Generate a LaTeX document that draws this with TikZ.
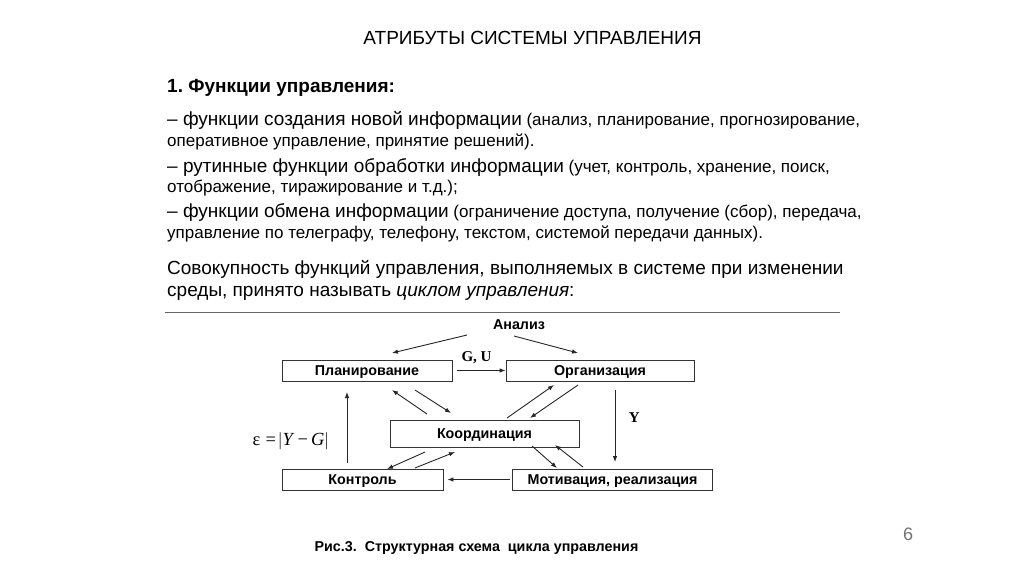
\documentclass[tikz,border=0pt]{standalone}
\usepackage{fontspec}
\setmainfont{Liberation Sans}
\newfontfamily\seriffont{Liberation Serif}
\usetikzlibrary{arrows.meta}
\frenchspacing

\begin{document}
\begin{tikzpicture}[x=1pt,y=-1pt,
 blk/.style={draw=black!80,line width=.8pt,minimum width=#1,minimum height=21pt,inner sep=0pt,text height=10.3pt,text depth=0pt,font=\bfseries\fontsize{14.3}{16}\selectfont},
 a/.style={-{Latex[length=6pt,width=4.5pt]},line width=.9pt,draw=black!85},
 txt/.style={anchor=base west,inner sep=0pt,font=\fontsize{17}{20}\selectfont},
 big/.style={anchor=base west,inner sep=0pt,font=\fontsize{19}{22}\selectfont}]
\useasboundingbox (0,0) rectangle (1024,574);
\fill[white] (0,0) rectangle (1024,574);
% title and text
\node[anchor=base,inner sep=0pt,font=\fontsize{19}{22}\selectfont] (title) at (532.5,44) {АТРИБУТЫ СИСТЕМЫ УПРАВЛЕНИЯ};
\node[anchor=base west,inner sep=0pt,font=\bfseries\fontsize{19}{22}\selectfont] (head) at (167,92) {1. Функции управления:};
\node[txt] (l1) at (167,125) {{\fontsize{19}{22}\selectfont – функции создания новой информации} (анализ, планирование, прогнозирование,};
\node[txt] (l2) at (167,146) {оперативное управление, принятие решений).};
\node[txt] (l3) at (167,172) {{\fontsize{19}{22}\selectfont – рутинные функции обработки информации} (учет, контроль, хранение, поиск,};
\node[txt] (l4) at (167,192) {отображение, тиражирование и т.д.);};
\node[txt] (l5) at (167,217) {{\fontsize{19}{22}\selectfont – функции обмена информации} (ограничение доступа, получение (сбор), передача,};
\node[txt] (l6) at (167,238) {управление по телеграфу, телефону, текстом, системой передачи данных).};
\node[big] (l7) at (167,274) {Совокупность функций управления, выполняемых в системе при изменении};
\node[big] (l8) at (167,296) {среды, принято называть \textit{циклом управления}:};
\draw[black!60,line width=1pt] (165,312) -- (840,312);
% scheme
\node[font=\bfseries\fontsize{14.3}{16}\selectfont] (an) at (519,325) {Анализ};
\node[blk=170pt] (plan) at (367,370.5) {Планирование};
\node[blk=188pt] (org) at (600,370.5) {Организация};
\node[blk=189pt,minimum height=27pt] (koord) at (484.5,433.5) {Координация};
\node[blk=161pt] (kontr) at (362.5,479.5) {Контроль};
\node[blk=200pt] (motiv) at (612.5,479.5) {Мотивация, реализация};
\node[font=\seriffont\fontsize{18.5}{21}\selectfont] (eps) at (291,441) {ε\hspace{5pt}=\hspace{2pt}$\Bigl|$\textit{Y}\hspace{3pt}−\hspace{3pt}\textit{G}$\Bigr|$};
\draw[a] ([shift={(-52,10)}]an.center) -- ([shift={(25,-17.5)}]plan.center);
\draw[a] ([shift={(-5,11)}]an.center) -- ([shift={(-22,-17.5)}]org.center);
\draw[a] ([xshift=5pt]plan.east) -- (org.west)
  node[midway,above=3pt,xshift=-5pt,font=\seriffont\bfseries\fontsize{15}{17}\selectfont] (gu) {G, U};
\draw[a] ([shift={(15,19.5)}]org.center) -- ([shift={(2.5,-17.5)}]motiv.center)
  node[pos=.38,right=10pt,font=\seriffont\bfseries\fontsize{15}{17}\selectfont] (ylab) {Y};
\draw[a] ([shift={(-15.5,-16.5)}]kontr.center) -- ([shift={(-20,21.5)}]plan.center);
\draw[a] ([shift={(-57.5,-19.5)}]koord.center) -- ([shift={(25,19.5)}]plan.center);
\draw[a] ([shift={(48,19.5)}]plan.center) -- ([shift={(-33.5,-20.5)}]koord.center);
\draw[a] ([shift={(22.5,-15.5)}]koord.center) -- ([shift={(-46,14.5)}]org.center);
\draw[a] ([shift={(-22,14.5)}]org.center) -- ([shift={(45.5,-15.5)}]koord.center);
\draw[a] ([shift={(-59.5,18.5)}]koord.center) -- ([shift={(24.5,-10.5)}]kontr.center);
\draw[a] ([shift={(52.5,-11.5)}]kontr.center) -- ([shift={(-29.5,18.5)}]koord.center);
\draw[a] ([shift={(47.5,12.5)}]koord.center) -- ([shift={(-55.5,-11.5)}]motiv.center);
\draw[a] ([shift={(-29.5,-12.5)}]motiv.center) -- ([shift={(70.5,11.5)}]koord.center);
\draw[a] ([xshift=-2pt]motiv.west) -- ([xshift=4pt]kontr.east);
% caption
\node[anchor=base,inner sep=0pt,font=\bfseries\fontsize{14.3}{16}\selectfont] (cap) at (476.5,551) {Рис.3.\ \ Структурная схема\ \ цикла управления};
\node[text=black!55,font=\fontsize{18}{20}\selectfont] (num) at (908,534) {6};
\end{tikzpicture}
\end{document}
